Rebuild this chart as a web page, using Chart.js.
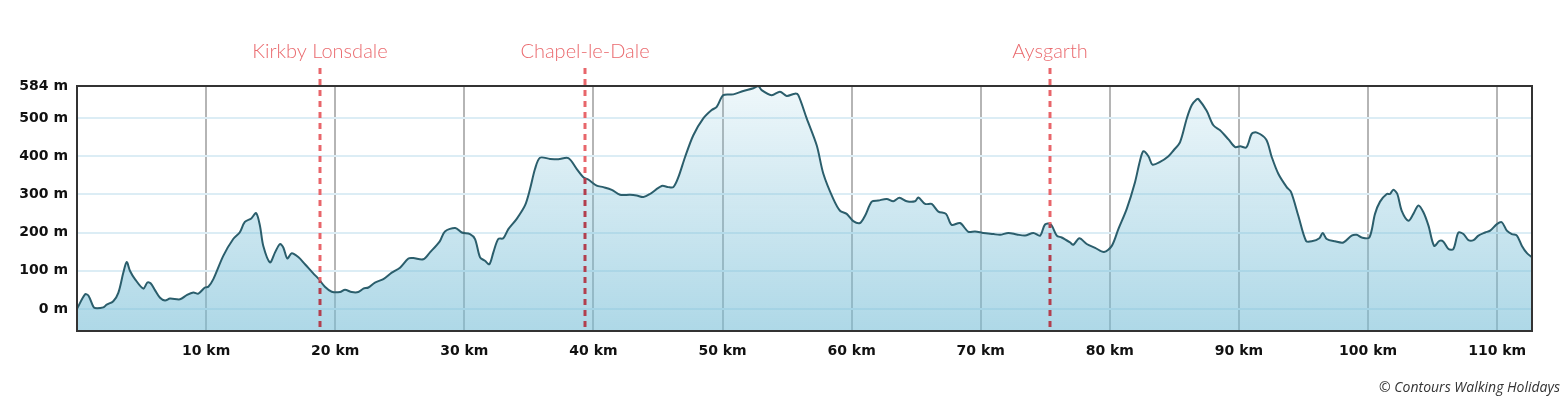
<!DOCTYPE html>
<html>
<head>
<meta charset="utf-8">
<script src="https://cdn.jsdelivr.net/npm/chart.js@4.4.1/dist/chart.umd.min.js"></script>
<style>
  html, body { margin: 0; padding: 0; background: #fff; }
  #wrap { width: 1564px; height: 403px; position: relative; }
</style>
</head>
<body>
<div id="wrap"><canvas id="profile"></canvas></div>
<script>
// distance along the route (km) and elevation (m)
const distanceKm = [
  0, 0.62, 0.88, 1.26, 1.39, 2.04, 2.3, 2.81, 3.2, 3.59, 3.85, 4.1, 4.49, 5.14, 5.45, 5.7, 6.04, 6.43, 6.82, 7.2,
  7.98, 8.5, 9.01, 9.4, 9.91, 10.17, 10.56, 11.33, 12.1, 12.6, 13.0, 13.5, 13.87, 14.17, 14.43, 14.95, 15.34, 15.72, 15.98, 16.29,
  16.63, 17.14, 17.66, 18.3, 18.7, 19.2, 19.73, 20.37, 20.76, 21.28, 21.79, 22.18, 22.57, 23.08, 23.73, 24.38, 25.02, 25.67, 26.05, 26.82,
  27.34, 28.1, 28.5, 29.3, 29.8, 30.44, 30.83, 31.22, 31.6, 31.94, 32.25, 32.63, 33.02, 33.41, 34.06, 34.7, 35.09, 35.48, 35.86, 36.64,
  37.28, 38.06, 38.7, 39.22, 39.6, 40.25, 40.77, 41.42, 42.06, 42.84, 43.35, 43.87, 44.38, 45.29, 45.8, 46.19, 46.58, 47.1, 47.74, 48.51,
  49.16, 49.55, 50.06, 50.84, 51.61, 52.39, 52.77, 53.03, 53.8, 54.45, 54.97, 55.62, 55.87, 56.52, 57.3, 57.81, 58.58, 59.1, 59.62, 60.13,
  60.65, 61.04, 61.56, 62.07, 62.72, 63.23, 63.7, 64.27, 64.91, 65.17, 65.69, 66.2, 66.72, 67.31, 67.75, 68.4, 69.04, 69.56, 70.2, 70.98,
  71.5, 72.14, 72.79, 73.43, 74.08, 74.6, 74.98, 75.42, 75.89, 76.27, 76.92, 77.17, 77.64, 78.21, 78.86, 79.55, 80.15, 80.66, 81.31, 81.95,
  82.34, 82.6, 82.99, 83.3, 83.89, 84.54, 84.93, 85.44, 85.96, 86.35, 86.73, 86.86, 87.5, 88.02, 88.54, 89.19, 89.71, 90.1, 90.57, 91.0,
  91.39, 92.11, 92.54, 93.05, 93.7, 94.04, 94.6, 95.2, 95.64, 96.23, 96.49, 96.8, 97.44, 98.09, 98.73, 99.12, 99.51, 100.1, 100.54, 100.93,
  101.45, 101.7, 101.96, 102.27, 102.61, 103.13, 103.51, 103.9, 104.29, 104.68, 105.12, 105.53, 105.84, 106.23, 106.61, 107.0, 107.39, 107.78, 108.17, 108.55,
  109.07, 109.46, 109.98, 110.36, 110.75, 111.14, 111.53, 111.92, 112.31, 112.7
];
const elevationM = [
  0, 38, 35, 6, 2, 4, 11, 20, 42, 95, 123, 100, 78, 53, 69, 67, 49, 29, 22, 27,
  25, 36, 43, 40, 56, 58, 78, 139, 183, 200, 228, 237, 251, 218, 165, 122, 148, 170, 161, 132,
  146, 136, 117, 93, 79, 58, 45, 44, 50, 44, 44, 53, 56, 69, 78, 95, 108, 132, 133, 130,
  148, 177, 203, 212, 200, 196, 183, 135, 126, 117, 148, 183, 185, 209, 236, 271, 314, 367, 396, 393,
  392, 395, 367, 345, 339, 323, 319, 312, 299, 299, 297, 293, 301, 322, 319, 319, 345, 398, 455, 499,
  521, 529, 560, 562, 571, 578, 584, 573, 560, 569, 558, 564, 560, 499, 428, 354, 288, 257, 249, 230,
  225, 244, 281, 284, 288, 282, 291, 282, 282, 292, 275, 275, 255, 249, 220, 225, 202, 203, 199, 196,
  194, 199, 195, 192, 199, 192, 221, 222, 192, 187, 174, 168, 185, 170, 160, 149, 165, 209, 262, 332,
  389, 413, 400, 378, 385, 400, 415, 437, 499, 534, 549, 550, 519, 481, 468, 444, 424, 426, 423, 459,
  462, 444, 398, 354, 319, 306, 244, 178, 177, 185, 199, 183, 177, 174, 192, 194, 187, 187, 249, 281,
  301, 301, 312, 301, 257, 231, 249, 271, 253, 218, 165, 178, 176, 157, 157, 200, 196, 180, 180, 192,
  200, 205, 222, 227, 205, 196, 192, 165, 146, 135
];

const placeNames = ['Kirkby Lonsdale', 'Chapel-le-Dale', 'Aysgarth'];
const placeKm = [18.82, 39.35, 75.37];

const yTickValues = [0, 100, 200, 300, 400, 500, 584];
const xTickValues = [10, 20, 30, 40, 50, 60, 70, 80, 90, 100, 110];

const points = distanceKm.map((d, i) => ({ x: d, y: elevationM[i] }));

// profile height at a given x pixel, from the drawn points
function profileYAt(meta, px) {
  const pts = meta.data;
  for (let i = 1; i < pts.length; i++) {
    if (pts[i].x >= px) {
      const a = pts[i - 1], b = pts[i];
      const t = (px - a.x) / (b.x - a.x);
      return a.y + t * (b.y - a.y);
    }
  }
  return pts[pts.length - 1].y;
}

const placeMarkers = {
  id: 'placeMarkers',
  afterDatasetsDraw(chart) {
    const ctx = chart.ctx;
    const area = chart.chartArea;
    const xs = chart.scales.x;
    const meta = chart.getDatasetMeta(0);
    ctx.save();
    placeKm.forEach((km, i) => {
      const px = Math.round(xs.getPixelForValue(km));
      const py = profileYAt(meta, px);
      ctx.lineWidth = 3;
      ctx.setLineDash([6, 5]);
      // above the profile
      ctx.save();
      ctx.beginPath();
      ctx.rect(px - 3, 0, 6, py);
      ctx.clip();
      ctx.strokeStyle = '#e8666b';
      ctx.beginPath();
      ctx.moveTo(px, 68);
      ctx.lineTo(px, area.bottom);
      ctx.stroke();
      ctx.restore();
      // inside the filled area
      ctx.save();
      ctx.beginPath();
      ctx.rect(px - 3, py, 6, area.bottom - py);
      ctx.clip();
      ctx.strokeStyle = '#b23f4e';
      ctx.beginPath();
      ctx.moveTo(px, 68);
      ctx.lineTo(px, area.bottom);
      ctx.stroke();
      ctx.restore();

      ctx.setLineDash([]);
      ctx.fillStyle = '#ea6a6e';
      ctx.font = '300 20px Lato';
      ctx.textAlign = 'center';
      ctx.textBaseline = 'middle';
      ctx.fillText(placeNames[i], px, 52);
    });
    ctx.restore();
  },
  afterDraw(chart) {
    const ctx = chart.ctx;
    const a = chart.chartArea;
    ctx.save();
    ctx.strokeStyle = '#333';
    ctx.lineWidth = 2;
    ctx.strokeRect(a.left, a.top, a.right - a.left, a.bottom - a.top);
    ctx.fillStyle = '#333';
    ctx.font = 'italic 14px "Open Sans"';
    ctx.textAlign = 'right';
    ctx.textBaseline = 'middle';
    ctx.fillText('\u00A9 Contours Walking Holidays', 1560, 388);
    ctx.restore();
  }
};

new Chart(document.getElementById('profile').getContext('2d'), {
  type: 'line',
  data: {
    datasets: [{
      data: points,
      borderColor: '#2b5e6c',
      borderWidth: 2,
      pointRadius: 0,
      tension: 0.3,
      fill: 'start',
      backgroundColor: function (context) {
        const area = context.chart.chartArea;
        if (!area) return 'rgba(120,190,215,0.4)';
        const g = context.chart.ctx.createLinearGradient(0, area.top, 0, area.bottom);
        g.addColorStop(0, 'rgba(120,190,215,0.12)');
        g.addColorStop(1, 'rgba(120,190,215,0.6)');
        return g;
      }
    }]
  },
  options: {
    responsive: true,
    maintainAspectRatio: false,
    animation: false,
    layout: { padding: { top: 86, right: 32, left: 0, bottom: 0 } },
    plugins: { legend: { display: false }, tooltip: { enabled: false } },
    scales: {
      x: {
        type: 'linear',
        min: 0,
        max: 112.7,
        afterBuildTicks: scale => { scale.ticks = xTickValues.map(v => ({ value: v })); },
        afterFit: scale => { scale.height = 72; },
        border: { display: false },
        grid: { color: '#b5b5b5', lineWidth: 2, drawTicks: false },
        ticks: {
          padding: 12,
          maxRotation: 0,
          color: '#111',
          font: { family: 'DejaVu Sans', weight: 'bold', size: 14 },
          callback: v => v + ' km'
        }
      },
      y: {
        min: -58,
        max: 584,
        afterBuildTicks: scale => { scale.ticks = yTickValues.map(v => ({ value: v })); },
        afterFit: scale => { scale.width = 77; },
        border: { display: false },
        grid: { color: '#dcedf5', lineWidth: 2, drawTicks: false },
        ticks: {
          padding: 9,
          color: '#111',
          font: { family: 'DejaVu Sans', weight: 'bold', size: 14 },
          callback: v => v + ' m'
        }
      }
    }
  },
  plugins: [placeMarkers]
});
</script>
</body>
</html>
